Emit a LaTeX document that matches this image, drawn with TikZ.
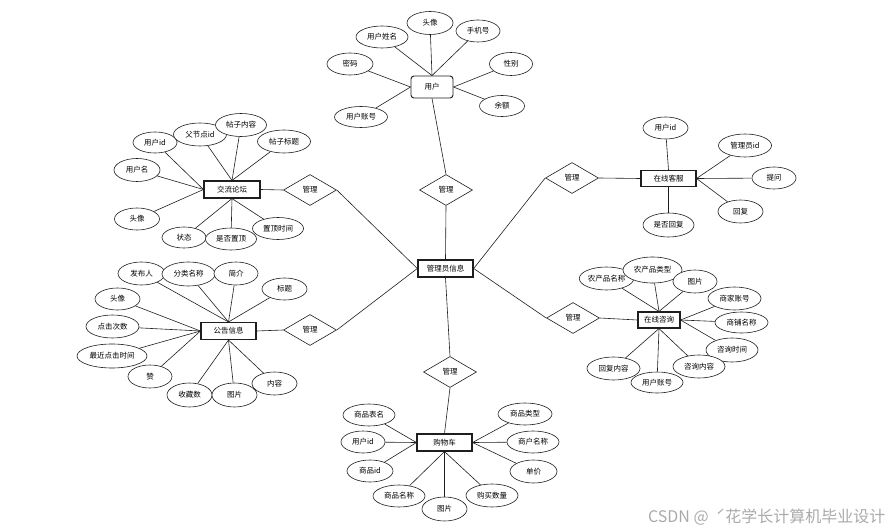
\documentclass[tikz,border=0pt]{standalone}
\usepackage{fontspec}
\setmainfont{Noto Sans CJK SC}
\usetikzlibrary{shapes.geometric,backgrounds}
\definecolor{ink}{RGB}{30,30,30}
\definecolor{wmark}{RGB}{170,170,170}
\tikzset{
  ent/.style={draw=ink,line width=1.1pt,fill=white,minimum width=55,
    minimum height=17,inner sep=1pt},
  attr/.style={ellipse,draw=ink,line width=0.6pt,fill=white,minimum width=#1,
    minimum height=22,inner sep=0.5pt},
  attr/.default=45,
  rel/.style={diamond,draw=ink,line width=0.6pt,fill=white,minimum width=53,
    minimum height=31,inner sep=0pt},
  link/.style={draw=ink,line width=0.6pt},
}

\begin{document}
\begin{tikzpicture}[x=1pt,y=-1pt,every node/.style={font=\fontsize{7.5}{9}\selectfont}]
  \useasboundingbox (0,0) rectangle (895,532);
  % centre
  \node[ent,line width=1.4pt] (adm) at (445.5,268.5) {管理员信息};
  \node[rel] (r1) at (310,190) {管理};
  \node[rel] (r2) at (446,190) {管理};
  \node[rel] (r3) at (572,178) {管理};
  \node[rel] (r4) at (310,330) {管理};
  \node[rel] (r5) at (573,318) {管理};
  \node[rel] (r6) at (450,372) {管理};

  % 用户
  \node[ent,rounded corners=3pt,line width=0.9pt,minimum width=42,minimum height=22] (user) at (432,87) {用户};
  \node[attr=52] (u1) at (382,37) {用户姓名};
  \node[attr=46,minimum height=23] (u2) at (430,23) {头像};
  \node[attr=44] (u3) at (478,31) {手机号};
  \node[attr=46] (u4) at (350,64) {密码};
  \node[attr=53,minimum height=21] (u5) at (361,117) {用户账号};
  \node[attr=43,minimum height=23] (u6) at (511,64) {性别};
  \node[attr=45,minimum height=21] (u7) at (502,106) {余额};

  % 交流论坛
  \node[ent,minimum width=56] (forum) at (232,189.5) {交流论坛};
  \node[attr=44,minimum height=21] (f1) at (155,142.5) {用户id};
  \node[attr=53,minimum height=23] (f2) at (200,134.5) {父节点id};
  \node[attr=51,minimum height=23] (f3) at (241,125) {帖子内容};
  \node[attr=53,minimum height=23] (f4) at (284,141.5) {帖子标题};
  \node[attr=46,minimum height=23] (f5) at (137,170) {用户名};
  \node[attr=45] (f6) at (137,219) {头像};
  \node[attr=44,minimum height=21] (f7) at (184,237.5) {状态};
  \node[attr=51] (f9) at (278,228.5) {置顶时间};
  \node[attr=51] (f8) at (231,239) {是否置顶};

  % 公告信息
  \node[ent] (notice) at (228.5,331) {公告信息};
  \node[attr=47,minimum height=23] (n1) at (141.5,273.5) {发布人};
  \node[attr=53,minimum height=24] (n2) at (188.5,274) {分类名称};
  \node[attr=44,minimum height=23] (n3) at (236,273.5) {简介};
  \node[attr=45] (n4) at (284.5,289) {标题};
  \node[attr=45] (n5) at (117.5,299) {头像};
  \node[attr=53,minimum height=23] (n6) at (112.5,326.5) {点击次数};
  \node[attr=70,minimum height=24] (n7) at (112,356) {最近点击时间};
  \node[attr=44,minimum height=23] (n8) at (150,376.5) {赞};
  \node[attr=45,minimum height=24] (n9) at (189.5,395) {收藏数};
  \node[attr=45,minimum height=24] (n10) at (234.5,395) {图片};
  \node[attr=45,minimum height=23] (n11) at (274.5,383.5) {内容};

  % 在线客服
  \node[ent,minimum height=16] (svc) at (668.5,178.5) {在线客服};
  \node[attr=45] (s1) at (665.5,128) {用户id};
  \node[attr=53,minimum height=23] (s2) at (745,145.5) {管理员id};
  \node[attr=44] (s3) at (774,178) {提问};
  \node[attr=45,minimum height=23] (s4) at (740.5,211.5) {回复};
  \node[attr=51,minimum height=24] (s5) at (668.5,225) {是否回复};

  % 在线咨询
  \node[ent,minimum width=42,minimum height=16] (cons) at (659,320) {在线咨询};
  \node[attr=53,minimum height=23] (c1) at (606.5,278.5) {农产品名称};
  \node[attr=59,minimum height=26] (c2) at (652.5,270) {农产品类型};
  \node[attr=44,minimum height=23] (c3) at (695,281.5) {图片};
  \node[attr=53,minimum height=23] (c4) at (734.5,298.5) {商家账号};
  \node[attr=53,minimum height=21] (c5) at (741.5,322.5) {商铺名称};
  \node[attr=52,minimum height=24] (c6) at (732,350) {咨询时间};
  \node[attr=52,minimum height=23] (c7) at (699,366.5) {咨询内容};
  \node[attr=52,minimum height=21] (c8) at (657,382.5) {用户账号};
  \node[attr=53,minimum height=23] (c9) at (613.5,368.5) {回复内容};

  % 购物车
  \node[ent] (cart) at (444.5,442.5) {购物车};
  \node[attr=52] (k1) at (369,415) {商品表名};
  \node[attr=44] (k2) at (363,442) {用户id};
  \node[attr=46] (k3) at (370,471) {商品id};
  \node[attr=52] (k4) at (399,496) {商品名称};
  \node[attr=45,minimum height=24] (k5) at (444.5,509) {图片};
  \node[attr=52,minimum height=23] (k6) at (492,495.5) {购买数量};
  \node[attr=47,minimum height=23] (k7) at (533.5,471.5) {单价};
  \node[attr=52] (k8) at (533,442) {商户名称};
  \node[attr=54] (k9) at (525,414) {商品类型};

  \node[font=\fontsize{16}{18}\selectfont,text=wmark,anchor=east] (wm) at (889,517) {CSDN @\ \ ˊ花学长计算机毕业设计};

  \begin{scope}[on background layer]
    \draw[link] (adm.west) -- (r1.east) (r1.west) -- (forum.east);
    \draw[link] (adm.north) -- (r2.south) (r2.north) -- (user.south);
    \draw[link] (adm.east) -- (r3.west) (r3.east) -- (svc.west);
    \draw[link] (adm.west) -- (r4.east) (r4.west) -- (notice.east);
    \draw[link] (adm.east) -- (r5.west) (r5.east) -- (cons.west);
    \draw[link] (adm.south) -- (r6.north) (r6.south) -- (cart.north);
    \foreach \a/\p in {u1/north,u2/north,u3/north,u4/west,u5/west,u6/east,u7/east}
      \draw[link] (\a) -- (user.\p);
    \foreach \a/\p in {f1/west,f2/north,f3/north,f4/north,f5/west,f6/west,f7/south,f8/south,f9/south}
      \draw[link] (\a) -- (forum.\p);
    \foreach \a/\p in {n1/north,n2/north,n3/north,n4/north,n5/west,n6/west,n7/west,n8/west,n9/south,n10/south,n11/south}
      \draw[link] (\a) -- (notice.\p);
    \foreach \a/\p in {s1/north,s2/east,s3/east,s4/east,s5/south}
      \draw[link] (\a) -- (svc.\p);
    \foreach \a/\p in {c1/north,c2/north,c3/north,c4/east,c5/east,c6/east,c7/south,c8/south,c9/south}
      \draw[link] (\a) -- (cons.\p);
    \foreach \a/\p in {k1/west,k2/west,k3/west,k4/south,k5/south,k6/south,k7/east,k8/east,k9/east}
      \draw[link] (\a) -- (cart.\p);
  \end{scope}
\end{tikzpicture}
\end{document}
